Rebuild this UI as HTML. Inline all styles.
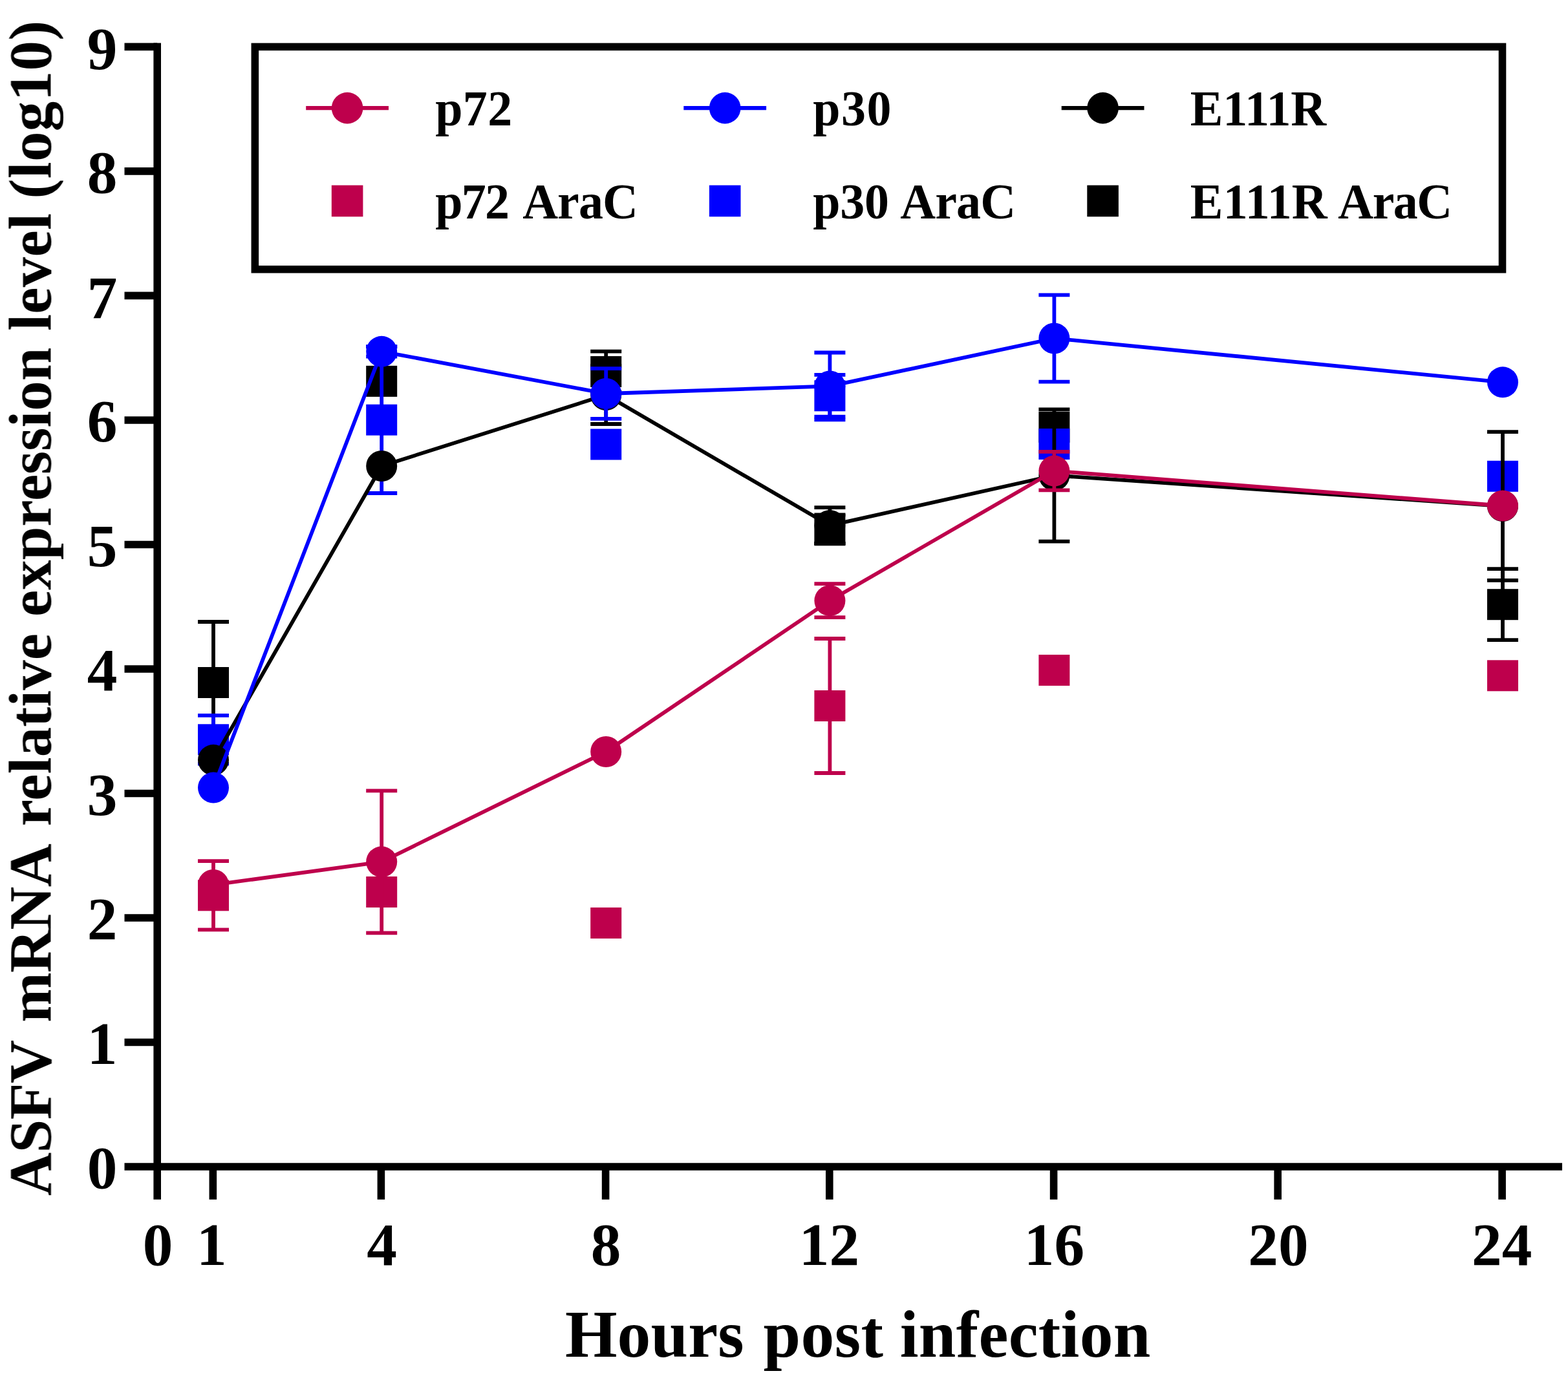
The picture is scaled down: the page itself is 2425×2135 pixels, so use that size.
<!DOCTYPE html>
<html lang="en"><head><meta charset="utf-8"><title>ASFV mRNA relative expression level</title>
<style>
html,body{margin:0;padding:0;background:#fff;}
body{width:2425px;height:2135px;overflow:hidden;}
svg{display:block;}
text{font-family:"Liberation Serif","Times New Roman",Times,serif;font-weight:bold;fill:#000;}
.tk{font-size:93.3px;}
.lg{font-size:76px;}
</style></head><body>
<svg width="2425" height="2135" viewBox="0 0 2425 2135">
<rect x="0" y="0" width="2425" height="2135" fill="#ffffff"/>
<defs><filter id="soft" filterUnits="userSpaceOnUse" x="0" y="0" width="2425" height="2135" color-interpolation-filters="sRGB"><feGaussianBlur stdDeviation="0.7"/></filter></defs>
<g id="chart" filter="url(#soft)">
<g id="data" stroke-linecap="butt">
<g fill="#000000" stroke="#000000" stroke-width="5.8">
<path fill="none" d="M330 962V1150M306 962H354M306 1150H354"/>
<path fill="none" d="M937.2 543.7V606.3M913.2 543.7H961.2M913.2 606.3H961.2"/>
<path fill="none" d="M1283.4 796.3V841.3M1259.4 796.3H1307.4M1259.4 841.3H1307.4"/>
<path fill="none" d="M2324 880.2V990.2M2300 880.2H2348M2300 990.2H2348"/>
<rect stroke="none" x="306" y="1032" width="48" height="48"/>
<rect stroke="none" x="566.2" y="565.85" width="48" height="48"/>
<rect stroke="none" x="913.2" y="551" width="48" height="48"/>
<rect stroke="none" x="1259.4" y="794.8" width="48" height="48"/>
<rect stroke="none" x="1606.4" y="636.8" width="48" height="48"/>
<rect stroke="none" x="2300" y="911.2" width="48" height="48"/>
</g>
<g fill="#0000FF" stroke="#0000FF" stroke-width="5.8">
<path fill="none" d="M330 1106.9V1181.7M306 1106.9H354M306 1181.7H354"/>
<path fill="none" d="M590.2 536.3V763M566.2 536.3H614.2M566.2 763H614.2"/>
<path fill="none" d="M1283.4 579.9V644.7M1259.4 579.9H1307.4M1259.4 644.7H1307.4"/>
<rect stroke="none" x="306" y="1120.3" width="48" height="48"/>
<rect stroke="none" x="566.2" y="625.65" width="48" height="48"/>
<rect stroke="none" x="913.2" y="663.5" width="48" height="48"/>
<rect stroke="none" x="1259.4" y="588.3" width="48" height="48"/>
<rect stroke="none" x="1606.4" y="663" width="48" height="48"/>
<rect stroke="none" x="2300" y="712.8" width="48" height="48"/>
</g>
<g fill="#BE004C" stroke="#BE004C" stroke-width="5.8">
<path fill="none" d="M330 1332.15V1438.45M306 1332.15H354M306 1438.45H354"/>
<path fill="none" d="M1283.4 988V1196M1259.4 988H1307.4M1259.4 1196H1307.4"/>
<rect stroke="none" x="306" y="1361.3" width="48" height="48"/>
<rect stroke="none" x="566.2" y="1356" width="48" height="48"/>
<rect stroke="none" x="913.2" y="1404" width="48" height="48"/>
<rect stroke="none" x="1259.4" y="1068" width="48" height="48"/>
<rect stroke="none" x="1606.4" y="1012.9" width="48" height="48"/>
<rect stroke="none" x="2300" y="1021.3" width="48" height="48"/>
</g>
<g fill="#000000" stroke="#000000" stroke-width="5.8">
<path fill="none" d="M937.2 566V656M913.2 566H961.2M913.2 656H961.2"/>
<path fill="none" d="M1283.4 785.1V840.7M1259.4 785.1H1307.4M1259.4 840.7H1307.4"/>
<path fill="none" d="M1630.4 633.3V837.7M1606.4 633.3H1654.4M1606.4 837.7H1654.4"/>
<path fill="none" d="M2324 668.2V897.8M2300 668.2H2348M2300 897.8H2348"/>
<polyline fill="none" stroke-linejoin="round" points="330,1175.8 590.2,721 937.2,611 1283.4,812.9 1630.4,735.5 2324,783"/>
<circle stroke="none" cx="330" cy="1175.8" r="24"/>
<circle stroke="none" cx="590.2" cy="721" r="24"/>
<circle stroke="none" cx="937.2" cy="611" r="24"/>
<circle stroke="none" cx="1283.4" cy="812.9" r="24"/>
<circle stroke="none" cx="1630.4" cy="735.5" r="24"/>
<circle stroke="none" cx="2324" cy="783" r="24"/>
</g>
<g fill="#0000FF" stroke="#0000FF" stroke-width="5.8">
<path fill="none" d="M590.2 536.05V551.55M566.2 536.05H614.2M566.2 551.55H614.2"/>
<path fill="none" d="M937.2 570.2V647.8M913.2 570.2H961.2M913.2 647.8H961.2"/>
<path fill="none" d="M1283.4 545.5V649.3M1259.4 545.5H1307.4M1259.4 649.3H1307.4"/>
<path fill="none" d="M1630.4 456.3V590.7M1606.4 456.3H1654.4M1606.4 590.7H1654.4"/>
<polyline fill="none" stroke-linejoin="round" points="330,1218.6 590.2,543.8 937.2,609 1283.4,597.4 1630.4,523.5 2324,591.3"/>
<circle stroke="none" cx="330" cy="1218.6" r="24"/>
<circle stroke="none" cx="590.2" cy="543.8" r="24"/>
<circle stroke="none" cx="937.2" cy="609" r="24"/>
<circle stroke="none" cx="1283.4" cy="597.4" r="24"/>
<circle stroke="none" cx="1630.4" cy="523.5" r="24"/>
<circle stroke="none" cx="2324" cy="591.3" r="24"/>
</g>
<g fill="#BE004C" stroke="#BE004C" stroke-width="5.8">
<path fill="none" d="M590.2 1223.3V1443.3M566.2 1223.3H614.2M566.2 1443.3H614.2"/>
<path fill="none" d="M1283.4 903.2V955.2M1259.4 903.2H1307.4M1259.4 955.2H1307.4"/>
<path fill="none" d="M1630.4 698.8V758.4M1606.4 698.8H1654.4M1606.4 758.4H1654.4"/>
<polyline fill="none" stroke-linejoin="round" points="330,1368.9 590.2,1333.3 937.2,1163 1283.4,929.2 1630.4,728.6 2324,782.5"/>
<circle stroke="none" cx="330" cy="1368.9" r="24"/>
<circle stroke="none" cx="590.2" cy="1333.3" r="24"/>
<circle stroke="none" cx="937.2" cy="1163" r="24"/>
<circle stroke="none" cx="1283.4" cy="929.2" r="24"/>
<circle stroke="none" cx="1630.4" cy="728.6" r="24"/>
<circle stroke="none" cx="2324" cy="782.5" r="24"/>
</g>
</g>
<g id="axes" fill="none" stroke="#000" stroke-width="11.6" stroke-linecap="butt">
<path d="M243.2 66.6V1855.8"/>
<path d="M192.5 1805H2416"/>
<path d="M192.5 1612.49H243.2M192.5 1419.98H243.2M192.5 1227.47H243.2M192.5 1034.96H243.2M192.5 842.44H243.2M192.5 649.93H243.2M192.5 457.42H243.2M192.5 264.91H243.2M192.5 72.4H243.2M329.35 1805V1855.8M589.4 1805V1855.8M936.6 1805V1855.8M1282.8 1805V1855.8M1629.6 1805V1855.8M1976.2 1805V1855.8M2323.1 1805V1855.8"/>
</g>
<g id="yticks" class="tk" text-anchor="end">
<text x="181.5" y="1838.4">0</text>
<text x="181.5" y="1645.89">1</text>
<text x="181.5" y="1453.38">2</text>
<text x="181.5" y="1260.87">3</text>
<text x="181.5" y="1068.36">4</text>
<text x="181.5" y="875.84">5</text>
<text x="181.5" y="683.33">6</text>
<text x="181.5" y="492.02">7</text>
<text x="181.5" y="298.31">8</text>
<text x="181.5" y="107">9</text>
</g>
<g id="xticks" class="tk" text-anchor="middle">
<text x="244" y="1956.8">0</text>
<text x="327.35" y="1956.8">1</text>
<text x="590.6" y="1956.8">4</text>
<text x="937.2" y="1956.8">8</text>
<text x="1282.5" y="1956.8">12</text>
<text x="1630.4" y="1956.8">16</text>
<text x="1977" y="1956.8">20</text>
<text x="2322.7" y="1956.8">24</text>
</g>
<text xml:space="preserve" id="ytitle" style="font-size:92.9px" transform="translate(78.4 0) rotate(-90)"><tspan x="-1850.13" style="letter-spacing:-0.47px">ASFV </tspan><tspan x="-1581.75" style="letter-spacing:-0.68px">mRNA </tspan><tspan x="-1278.35" style="letter-spacing:0.13px">relative </tspan><tspan x="-954.05" style="letter-spacing:0.01px">expression </tspan><tspan x="-511.86" style="letter-spacing:0.33px">level </tspan><tspan x="-307.48" style="letter-spacing:0.38px">(log10)</tspan></text>
<text xml:space="preserve" id="xtitle" style="font-size:103.6px" y="2099.3"><tspan x="873.89" style="letter-spacing:0.11px">Hours </tspan><tspan x="1180.61" style="letter-spacing:0.39px">post </tspan><tspan x="1391.77" style="letter-spacing:0.25px">infection</tspan></text>
<g id="legend">
<rect x="394.35" y="72.4" width="1929.15" height="344.3" fill="none" stroke="#000" stroke-width="11.6"/>
<path d="M473.2 167.1H601" stroke="#BE004C" stroke-width="6.2" fill="none"/>
<circle cx="537.1" cy="167.1" r="24.3" fill="#BE004C"/>
<text xml:space="preserve" class="lg" transform="matrix(1 0 0 1.04 0 -7.76)" y="194"><tspan x="673.15" style="letter-spacing:0.4px">p72</tspan></text>
<path d="M1057.3 167.1H1185.1" stroke="#0000FF" stroke-width="6.2" fill="none"/>
<circle cx="1121.2" cy="167.1" r="24.3" fill="#0000FF"/>
<text xml:space="preserve" class="lg" transform="matrix(1 0 0 1.04 0 -7.76)" y="194"><tspan x="1257.35" style="letter-spacing:1.46px">p30</tspan></text>
<path d="M1641.7 167.1H1769.5" stroke="#000000" stroke-width="6.2" fill="none"/>
<circle cx="1705.6" cy="167.1" r="24.3" fill="#000000"/>
<text xml:space="preserve" class="lg" transform="matrix(1 0 0 1.04 0 -7.76)" y="194"><tspan x="1840.87" style="letter-spacing:-0.23px">E111R</tspan></text>
<rect x="512.8" y="286.6" width="48.6" height="48.6" fill="#BE004C"/>
<text xml:space="preserve" class="lg" transform="matrix(1 0 0 1.04 0 -13.52)" y="337.9"><tspan x="673.15" style="letter-spacing:-1.65px">p72 </tspan><tspan x="808.14" style="letter-spacing:-0.9px">AraC</tspan></text>
<rect x="1096.9" y="286.6" width="48.6" height="48.6" fill="#0000FF"/>
<text xml:space="preserve" class="lg" transform="matrix(1 0 0 1.04 0 -13.52)" y="337.9"><tspan x="1257.35" style="letter-spacing:-0.24px">p30 </tspan><tspan x="1392.24" style="letter-spacing:-0.87px">AraC</tspan></text>
<rect x="1681.3" y="286.6" width="48.6" height="48.6" fill="#000000"/>
<text xml:space="preserve" class="lg" transform="matrix(1 0 0 1.04 0 -13.52)" y="337.9"><tspan x="1840.87" style="letter-spacing:0.17px">E111R </tspan><tspan x="2069.34" style="letter-spacing:-1.57px">AraC</tspan></text>
</g>
</g>
</svg>
</body></html>
